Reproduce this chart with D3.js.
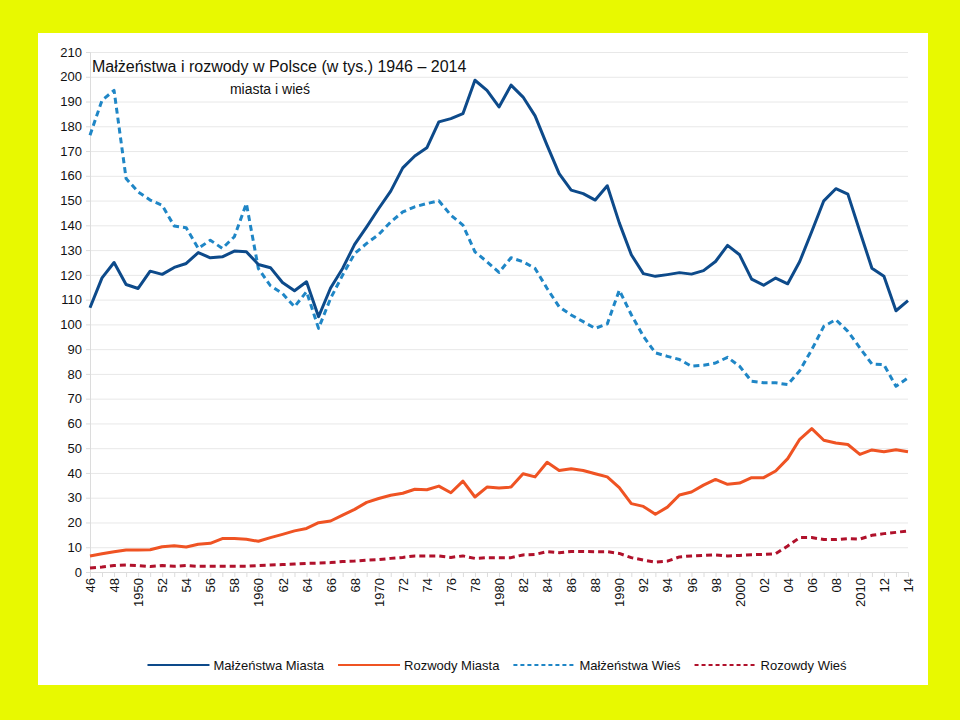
<!DOCTYPE html>
<html><head><meta charset="utf-8">
<script src="https://cdn.jsdelivr.net/npm/d3@7"></script>
<style>
html,body{margin:0;padding:0;background:#e8f900;}
svg{display:block;font-family:"Liberation Sans",Arial,sans-serif;}
</style></head>
<body><svg id="c" width="960" height="720"></svg>
<script>
const years = d3.range(1946, 2015);
const malMiasta = [106.7,118.8,125,116.1,114.5,121.5,120.2,123,124.6,129,
126.9,127.3,129.6,129.3,124.2,122.9,116.9,113.6,117.2,103.1,
114.7,122.6,132.3,139.4,146.8,153.8,163.2,168,171.3,181.8,
183.1,185.1,198.6,194.5,187.8,196.6,191.8,184.2,172.3,160.9,
154.2,152.8,150.2,156,141,128.1,120.5,119.4,120.1,120.9,
120.3,121.7,125.4,131.9,128.1,118.3,115.8,118.7,116.4,125.4,
137.5,149.9,154.8,152.6,137.5,122.7,119.4,105.5,109.6];
const rozMiasta = [6.5,7.4,8.2,8.9,8.9,9.0,10.2,10.6,10.1,11.2,
11.6,13.5,13.5,13.2,12.4,13.9,15.2,16.6,17.6,19.9,
20.6,23,25.3,28.1,29.7,31,31.8,33.4,33.2,34.7,
32,36.7,30.3,34.3,33.9,34.3,39.7,38.4,44.3,41,
41.7,41,39.7,38.4,34.1,27.6,26.5,23.3,26.2,31.1,
32.3,35.1,37.4,35.4,35.9,38.1,38.1,40.8,45.8,53.6,
57.9,53.2,52.1,51.5,47.5,49.3,48.6,49.4,48.6];
const malWies = [176.4,190.5,194.5,158.9,153.5,150.2,148.1,139.7,139,130.7,
134,130.7,135.4,148.8,122.5,115.6,112.5,107.1,113.2,98.4,
110.5,119.9,128.6,132.7,136.3,141.4,145.4,147.5,148.8,149.9,
144.1,140.1,129.3,125.3,121,126.9,125.3,122.6,114.5,107.1,
103.8,101.1,98.4,100.2,113.8,103.9,95.2,88.5,87.1,85.8,
83.1,83.5,84.4,86.7,83.1,77,76.4,76.4,75.7,81.3,
89.8,99.2,101.9,97.2,90.5,84,83.7,75,78.4];
const rozWies = [1.6,2,2.6,2.8,2.6,2.2,2.6,2.3,2.6,2.3,
2.3,2.3,2.3,2.3,2.6,2.8,3,3.2,3.5,3.6,
3.8,4.2,4.4,4.8,5,5.5,5.9,6.5,6.5,6.5,
5.9,6.5,5.5,5.8,5.8,5.8,6.9,7.1,8.2,7.8,
8.3,8.3,8.2,8.2,7.5,5.8,4.8,4,4.4,6.1,
6.5,6.7,6.9,6.5,6.7,7,7.1,7.4,10.5,13.9,
13.9,13.1,13.1,13.5,13.3,14.8,15.5,16,16.6];
const tickYears = d3.range(1946, 2015, 2);
const tickLabels = ["46","48","1950","52","54","56","58","1960","62","64","66","68","1970","72","74","76","78","1980","82","84","86","88","1990","92","94","96","98","2000","02","04","06","08","2010","12","14"];
const yTicks = d3.range(0, 211, 10);
const seriesNames = ["Małżeństwa Miasta","Rozwody Miasta","Małżeństwa Wieś","Rozowdy Wieś"];
const title = "Małżeństwa i rozwody w Polsce (w tys.) 1946 – 2014";
const subtitle = "miasta i wieś";

const svg = d3.select("#c");
svg.append("rect").attr("x",0).attr("y",0).attr("width",960).attr("height",720).attr("fill","#e8f900");
svg.append("rect").attr("x",38).attr("y",33).attr("width",890).attr("height",652).attr("fill","#ffffff");

const x = d3.scaleLinear().domain([1946, 2014]).range([90, 908]);
const y = d3.scaleLinear().domain([0, 210]).range([572, 52]);

// gridlines
const gy = d3.axisLeft(y).tickValues(yTicks).tickSize(-(908-90)).tickFormat("");
svg.append("g").attr("transform","translate(90,0)").call(gy)
  .call(g=>g.select(".domain").remove())
  .call(g=>g.selectAll("line").attr("stroke","#e8e8e8").attr("stroke-width",1));
// y axis labels
const ya = d3.axisLeft(y).tickValues(yTicks).tickSize(4).tickPadding(4).tickFormat(d3.format("d"));
svg.append("g").attr("transform","translate(90,0)").call(ya)
  .call(g=>g.select(".domain").attr("stroke","#dcdcdc"))
  .call(g=>g.selectAll("line").attr("stroke","#dcdcdc"))
  .call(g=>g.selectAll("text").attr("fill","#111").attr("font-size","13px").attr("font-family","'Liberation Sans',Arial,sans-serif"));
// x axis ticks each year
const xa = d3.axisBottom(x).tickValues(years).tickSize(5).tickFormat("");
svg.append("g").attr("transform","translate(0,572)").call(xa)
  .call(g=>g.select(".domain").attr("stroke","#dcdcdc"))
  .call(g=>g.selectAll("line").attr("stroke","#dcdcdc"));
// x labels
const xl = d3.axisBottom(x).tickValues(tickYears).tickSize(0).tickFormat((d,i)=>tickLabels[i]);
svg.append("g").attr("transform","translate(0,572)").call(xl)
  .call(g=>g.select(".domain").remove())
  .call(g=>g.selectAll("text")
    .attr("transform","rotate(-90)").attr("text-anchor","end")
    .attr("x",-6).attr("y",0).attr("dy","0.35em")
    .attr("fill","#111").attr("font-size","13px").attr("font-family","'Liberation Sans',Arial,sans-serif"));

const styles = [
  {data: malMiasta, color:"#0d4a8a", dash:null},
  {data: rozMiasta, color:"#ef5323", dash:null},
  {data: malWies, color:"#1f86c6", dash:"6,4"},
  {data: rozWies, color:"#b0112b", dash:"6,4"}
];
const line = d3.line().x((d,i)=>x(years[i])).y(d=>y(d));
[2,3,1,0].forEach(k=>{
  const s = styles[k];
  svg.append("path").datum(s.data).attr("d",line)
    .attr("fill","none").attr("stroke",s.color).attr("stroke-width",3)
    .attr("stroke-linejoin","round")
    .attr("stroke-dasharray",s.dash);
});

svg.append("text").attr("x",92).attr("y",72).attr("font-size","16px").attr("fill","#111").text(title);
svg.append("text").attr("x",270).attr("y",94).attr("text-anchor","middle").attr("font-size","14px").attr("fill","#111").text(subtitle);

// legend
const lg = svg.append("g");
let cx = 0;
seriesNames.forEach((name,i)=>{
  const g = lg.append("g").attr("transform",`translate(${cx},0)`);
  g.append("line").attr("x1",0).attr("x2",62).attr("y1",0).attr("y2",0)
    .attr("stroke",styles[i].color).attr("stroke-width",2)
    .attr("stroke-dasharray", styles[i].dash ? "4,3" : null);
  const t = g.append("text").attr("x",66).attr("y",0).attr("dy","0.35em").attr("font-size","13px").attr("fill","#111").text(name);
  cx += 66 + t.node().getComputedTextLength() + 14;
});
const total = cx - 14;
lg.attr("transform",`translate(${497 - total/2},665)`);
</script></body></html>
